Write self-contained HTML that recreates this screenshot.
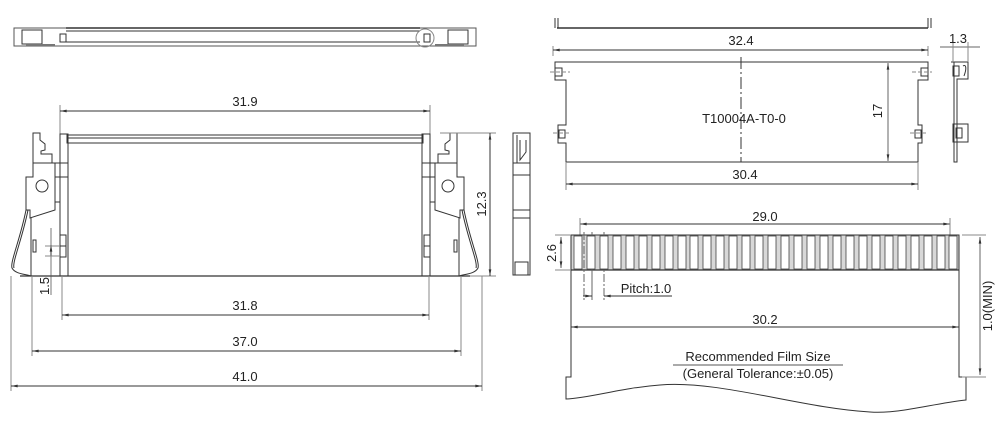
<!DOCTYPE html>
<html><head><meta charset="utf-8"><style>
html,body{margin:0;padding:0;background:#fff;}
svg{display:block;}
text{font-family:"Liberation Sans",Arial,sans-serif;fill:#222;}
</style></head><body>
<svg width="1003" height="425" viewBox="0 0 1003 425" xmlns="http://www.w3.org/2000/svg">
<defs>
<marker id="a" viewBox="0 0 10 6" refX="10" refY="3" markerWidth="10" markerHeight="4" orient="auto-start-reverse"><path d="M0,1 L10,3 L0,5z" fill="#333"/></marker>
</defs>
<g fill="none" stroke="#333" stroke-width="1">
<!-- top left view -->
<rect x="14" y="28" width="462" height="18" stroke="#555"/>
<line x1="66" y1="28" x2="420" y2="28" stroke-width="1.5"/>
<line x1="66" y1="31" x2="420" y2="31"/>
<line x1="66" y1="42" x2="420" y2="42"/>
<rect x="22" y="30" width="20" height="14"/>
<rect x="448" y="30" width="20" height="14"/>
<path d="M60,34 h6 v8 h-6z M424,34 h6 v8 h-6z"/>
<circle cx="425" cy="38" r="9" stroke="#888"/>
<line x1="26" y1="45" x2="55" y2="45" stroke="#777" stroke-width="2"/>
<line x1="435" y1="45" x2="464" y2="45" stroke="#777" stroke-width="2"/>

<!-- main front view -->
<line x1="60" y1="143" x2="60" y2="105" stroke="#888"/>
<line x1="430" y1="143" x2="430" y2="105" stroke="#888"/>
<line x1="60" y1="111" x2="430" y2="111" marker-start="url(#a)" marker-end="url(#a)"/>
<rect x="67" y="135" width="356" height="8"/>
<line x1="67" y1="138" x2="423" y2="138"/>
<line x1="20" y1="276" x2="470" y2="276" stroke-width="1.2"/>
<g id="L">
<path d="M60,276 V134 h8 V276"/>
<path d="M33,163 V133 h7 v7 l5,4 v6 l-4,1 v3 h11 v9"/>
<path d="M33,163 h22 v47 l-25,8 l0,-8 h-4 v-33 h7z"/>
<rect x="55" y="163" width="13" height="14"/>
<rect x="55" y="177" width="5" height="25"/>
<circle cx="42" cy="186" r="6"/>
<path d="M31,218 V276"/>
<path d="M26,210 C20,240 10,262 12,268 C15,274 25,274 31,276"/>
<path d="M28,210 C22,240 12,262 14,268"/>
<rect x="60" y="235" width="6" height="22"/>
<line x1="60" y1="246" x2="66" y2="246"/>
<rect x="33" y="240" width="3" height="12"/>
</g>
<use href="#L" transform="translate(490,0) scale(-1,1)"/>
<!-- 1.5 dim -->
<line x1="51" y1="228" x2="51" y2="295" stroke="#555" stroke-width="0.8"/>
<line x1="51" y1="245" x2="51" y2="256" marker-start="url(#a)"/>
<line x1="45" y1="256" x2="60" y2="256" stroke="#888"/>
<line x1="45" y1="246" x2="60" y2="246" stroke="#888"/>
<!-- 12.3 -->
<line x1="440" y1="133" x2="496" y2="133" stroke="#888"/>
<line x1="470" y1="276" x2="496" y2="276" stroke="#888"/>
<line x1="490" y1="133" x2="490" y2="276" marker-start="url(#a)" marker-end="url(#a)"/>
<!-- bottom dims -->
<line x1="62" y1="276" x2="62" y2="320" stroke="#888"/>
<line x1="429" y1="276" x2="429" y2="320" stroke="#888"/>
<line x1="62" y1="315" x2="429" y2="315" marker-start="url(#a)" marker-end="url(#a)"/>
<line x1="32" y1="276" x2="32" y2="356" stroke="#888"/>
<line x1="461" y1="276" x2="461" y2="356" stroke="#888"/>
<line x1="32" y1="351" x2="461" y2="351" marker-start="url(#a)" marker-end="url(#a)"/>
<line x1="11" y1="276" x2="11" y2="391" stroke="#888"/>
<line x1="482" y1="276" x2="482" y2="391" stroke="#888"/>
<line x1="11" y1="386" x2="482" y2="386" marker-start="url(#a)" marker-end="url(#a)"/>

<!-- middle side view -->
<rect x="513" y="133" width="17" height="142"/>
<line x1="513" y1="163" x2="530" y2="163"/>
<line x1="513" y1="175" x2="530" y2="175"/>
<line x1="517" y1="135" x2="517" y2="163"/>
<path d="M520,140 v20 l6,-8 v-12"/>
<line x1="513" y1="210" x2="530" y2="210"/>
<line x1="513" y1="218" x2="530" y2="218"/>
<rect x="515" y="262" width="13" height="13"/>

<!-- top right rail -->
<line x1="557" y1="28" x2="928" y2="28" stroke-width="1.5"/>
<path d="M555,28 v-10 M558,28 v-10 M928,28 v-10 M931,28 v-10"/>
<line x1="553" y1="46" x2="553" y2="56" stroke="#888"/>
<line x1="928" y1="46" x2="928" y2="56" stroke="#888"/>
<line x1="553" y1="50" x2="928" y2="50" marker-start="url(#a)" marker-end="url(#a)"/>
<!-- panel -->
<path d="M555,62 H928 V80 H918 V125 H922 V143 H918 V162 H566 V143 H558 V125 H566 V80 H555 Z"/>
<rect x="555" y="68" width="7" height="8"/>
<rect x="921" y="68" width="7" height="8"/>
<rect x="559" y="130" width="6" height="8"/>
<rect x="915" y="130" width="6" height="8"/>
<path d="M550,72 h20 M912,72 h20 M553,133 h17 M910,133 h17" stroke="#888" stroke-dasharray="4,2"/>
<line x1="741" y1="57" x2="741" y2="162" stroke-dasharray="12,3,2,3"/>
<line x1="888" y1="63" x2="888" y2="161" stroke="#666" marker-start="url(#a)" marker-end="url(#a)"/>
<line x1="566" y1="162" x2="566" y2="190" stroke="#888"/>
<line x1="918" y1="162" x2="918" y2="190" stroke="#888"/>
<line x1="566" y1="184" x2="918" y2="184" marker-start="url(#a)" marker-end="url(#a)"/>
<!-- small side right -->
<path d="M951,62 h17 v17 h-11 v83 h-3 v-100"/>
<rect x="953" y="66" width="6" height="10"/>
<path d="M963,66 c3,-2 4,2 1,10"/>
<rect x="953" y="124" width="15" height="18"/>
<rect x="956" y="128" width="6" height="10"/>
<line x1="940" y1="47" x2="980" y2="47" stroke="#666"/>
<line x1="953" y1="42" x2="953" y2="62" stroke="#888"/>
<line x1="968" y1="42" x2="968" y2="62" stroke="#888"/>

<!-- film -->
<line x1="580" y1="224" x2="950" y2="224" marker-start="url(#a)" marker-end="url(#a)"/>
<line x1="580" y1="218" x2="580" y2="235" stroke="#888"/>
<line x1="950" y1="218" x2="950" y2="235" stroke="#888"/>
<rect x="571" y="235" width="388" height="35" fill="#d8d8d8" stroke="none"/>
<path d="M571,377 V235 H959 V377 H966 V400 C930,404 900,414 870,412 C800,408 720,380 660,385 C620,388 590,398 566,399 V377 Z"/>
<line x1="571" y1="270" x2="959" y2="270" stroke-width="1.2"/>
<line x1="555" y1="235" x2="571" y2="235" stroke="#888"/>
<line x1="555" y1="270" x2="571" y2="270" stroke="#888"/>
<line x1="561" y1="237" x2="561" y2="268" stroke="#666" marker-start="url(#a)" marker-end="url(#a)"/>
<line x1="584" y1="232" x2="584" y2="300" stroke="#666" stroke-dasharray="8,2,2,2"/>
<line x1="592" y1="232" x2="592" y2="300" stroke="#666"/>
<line x1="604" y1="232" x2="604" y2="300" stroke="#666" stroke-dasharray="8,2,2,2"/>
<line x1="583" y1="296" x2="592" y2="296" marker-end="url(#a)"/>
<line x1="604" y1="296" x2="672" y2="296" marker-start="url(#a)"/>
<line x1="571" y1="327" x2="959" y2="327" marker-start="url(#a)" marker-end="url(#a)"/>
<line x1="962" y1="235" x2="986" y2="235" stroke="#888"/>
<line x1="962" y1="377" x2="986" y2="377" stroke="#888"/>
<line x1="980" y1="237" x2="980" y2="375" stroke="#666" marker-start="url(#a)" marker-end="url(#a)"/>
<line x1="673" y1="365" x2="843" y2="365" stroke="#555"/>
</g>
<g fill="#fff" stroke="#444" stroke-width="0.8">
<rect x="574" y="236" width="8" height="33"/><rect x="587" y="236" width="8" height="33"/><rect x="600" y="236" width="8" height="33"/><rect x="613" y="236" width="8" height="33"/><rect x="626" y="236" width="8" height="33"/><rect x="639" y="236" width="8" height="33"/><rect x="652" y="236" width="8" height="33"/><rect x="665" y="236" width="8" height="33"/><rect x="678" y="236" width="8" height="33"/><rect x="690" y="236" width="8" height="33"/><rect x="703" y="236" width="8" height="33"/><rect x="716" y="236" width="8" height="33"/><rect x="729" y="236" width="8" height="33"/><rect x="742" y="236" width="8" height="33"/><rect x="755" y="236" width="8" height="33"/><rect x="768" y="236" width="8" height="33"/><rect x="781" y="236" width="8" height="33"/><rect x="794" y="236" width="8" height="33"/><rect x="807" y="236" width="8" height="33"/><rect x="820" y="236" width="8" height="33"/><rect x="833" y="236" width="8" height="33"/><rect x="846" y="236" width="8" height="33"/><rect x="859" y="236" width="8" height="33"/><rect x="872" y="236" width="8" height="33"/><rect x="885" y="236" width="8" height="33"/><rect x="898" y="236" width="8" height="33"/><rect x="911" y="236" width="8" height="33"/><rect x="924" y="236" width="8" height="33"/><rect x="937" y="236" width="8" height="33"/><rect x="949" y="236" width="8" height="33"/>
</g>
<g font-size="13" text-anchor="middle">
<text x="245" y="106">31.9</text>
<text x="245" y="310">31.8</text>
<text x="245" y="346">37.0</text>
<text x="245" y="381">41.0</text>
<text transform="translate(486,204) rotate(-90)">12.3</text>
<text transform="translate(49,286) rotate(-90)">1.5</text>
<text x="741" y="45">32.4</text>
<text x="744" y="123">T10004A-T0-0</text>
<text transform="translate(882,111) rotate(-90)">17</text>
<text x="745" y="179">30.4</text>
<text x="958" y="43">1.3</text>
<text x="765" y="221">29.0</text>
<text transform="translate(556,253) rotate(-90)">2.6</text>
<text x="646" y="293">Pitch:1.0</text>
<text x="765" y="324">30.2</text>
<text transform="translate(992,306) rotate(-90)">1.0(MIN)</text>
<text x="758" y="361">Recommended Film Size</text>
<text x="758" y="378">(General Tolerance:±0.05)</text>
</g>
</svg>
</body></html>
